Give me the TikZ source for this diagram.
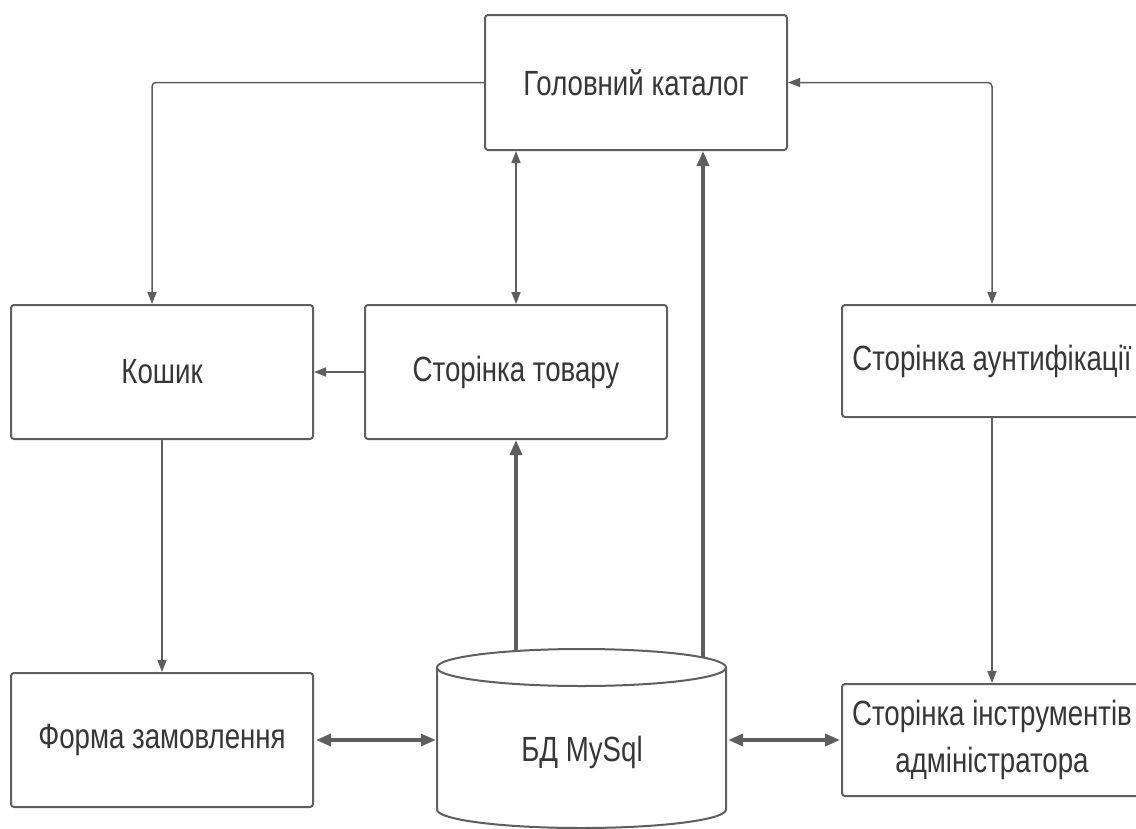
\documentclass[tikz,border=0pt]{standalone}
\usepackage{fontspec}
\setmainfont[FakeStretch=0.79]{Liberation Sans}
\usetikzlibrary{arrows.meta,calc}
\definecolor{linec}{HTML}{5E5E5E}
\definecolor{textc}{HTML}{363636}
\tikzset{
  box/.style={draw=linec, line width=2pt, rounded corners=3pt, fill=white,
    inner sep=0pt, text=textc, align=center,
    font=\fontsize{35}{47}\selectfont},
  conn/.style={draw=linec, line width=1.5pt, rounded corners=4pt,
    arrows={-Triangle[length=12pt,width=9pt]}},
  dconn/.style={conn, arrows={Triangle[length=12pt,width=9pt]-Triangle[length=12pt,width=9pt]}},
  thickconn/.style={draw=linec, line width=3.5pt,
    arrows={-Triangle[length=15pt,width=12pt]}},
  dthickconn/.style={thickconn, arrows={Triangle[length=15pt,width=12pt]-Triangle[length=15pt,width=12pt]}},
}
\begin{document}
\begin{tikzpicture}[x=1pt,y=-1pt]
\useasboundingbox (0,0) rectangle (1136,828);
\fill[white] (0,0) rectangle (1136,828);

\node[box, minimum width=302pt, minimum height=135pt] (top) at (636,82.5) {Головний каталог};
\node[box, minimum width=302pt, minimum height=134pt] (koshyk) at (162,372) {Кошик};
\node[box, minimum width=302pt, minimum height=134pt] (tovar) at (516,372) {Сторінка товару};
\node[box, minimum width=300pt, minimum height=112pt] (aunt) at (992,361) {Сторінка аунтифікації};
\node[box, minimum width=302pt, minimum height=134pt] (forma) at (162,740) {Форма замовлення};
\node[box, minimum width=300pt, minimum height=112pt] (instr) at (992,740) {Сторінка інструментів\\адміністратора};

% database cylinder
\draw[draw=linec, line width=2pt, fill=white]
  (437,667.5) -- (437,809.5) arc[start angle=180, end angle=0, x radius=144.5, y radius=18.5] -- (726,667.5);
\draw[draw=linec, line width=2pt, fill=white] (581.5,667.5) ellipse[x radius=144.5, y radius=18.5];
\node[inner sep=0pt, minimum width=289pt, minimum height=160pt] (db) at (581.5,747.75) {};
\node[text=textc, font=\fontsize{35}{47}\selectfont, inner sep=0pt] (dblabel) at (582,752) {БД MySql};
\coordinate (dbA) at (516,651);
\coordinate (dbB) at (703,657.5);

% connectors
\draw[conn] (top.west) -| ([xshift=-10pt]koshyk.north);
\draw[dconn] (tovar.north) -- (tovar.north |- top.south);
\draw[conn] (tovar.west) -- (koshyk.east);
\draw[conn] (koshyk.south) -- (forma.north);
\draw[dconn] (top.east) -| (aunt.north);
\draw[conn] (aunt.south) -- (instr.north);
\draw[thickconn] (dbA) -- (tovar.south);
\draw[thickconn] (dbB) -- (dbB |- top.south);
\draw[dthickconn] ([xshift=2pt]forma.east) -- ([xshift=-1pt]forma.east -| db.west);
\draw[dthickconn] ([xshift=2pt]instr.west -| db.east) -- ([xshift=-1pt]instr.west);
\end{tikzpicture}
\end{document}
